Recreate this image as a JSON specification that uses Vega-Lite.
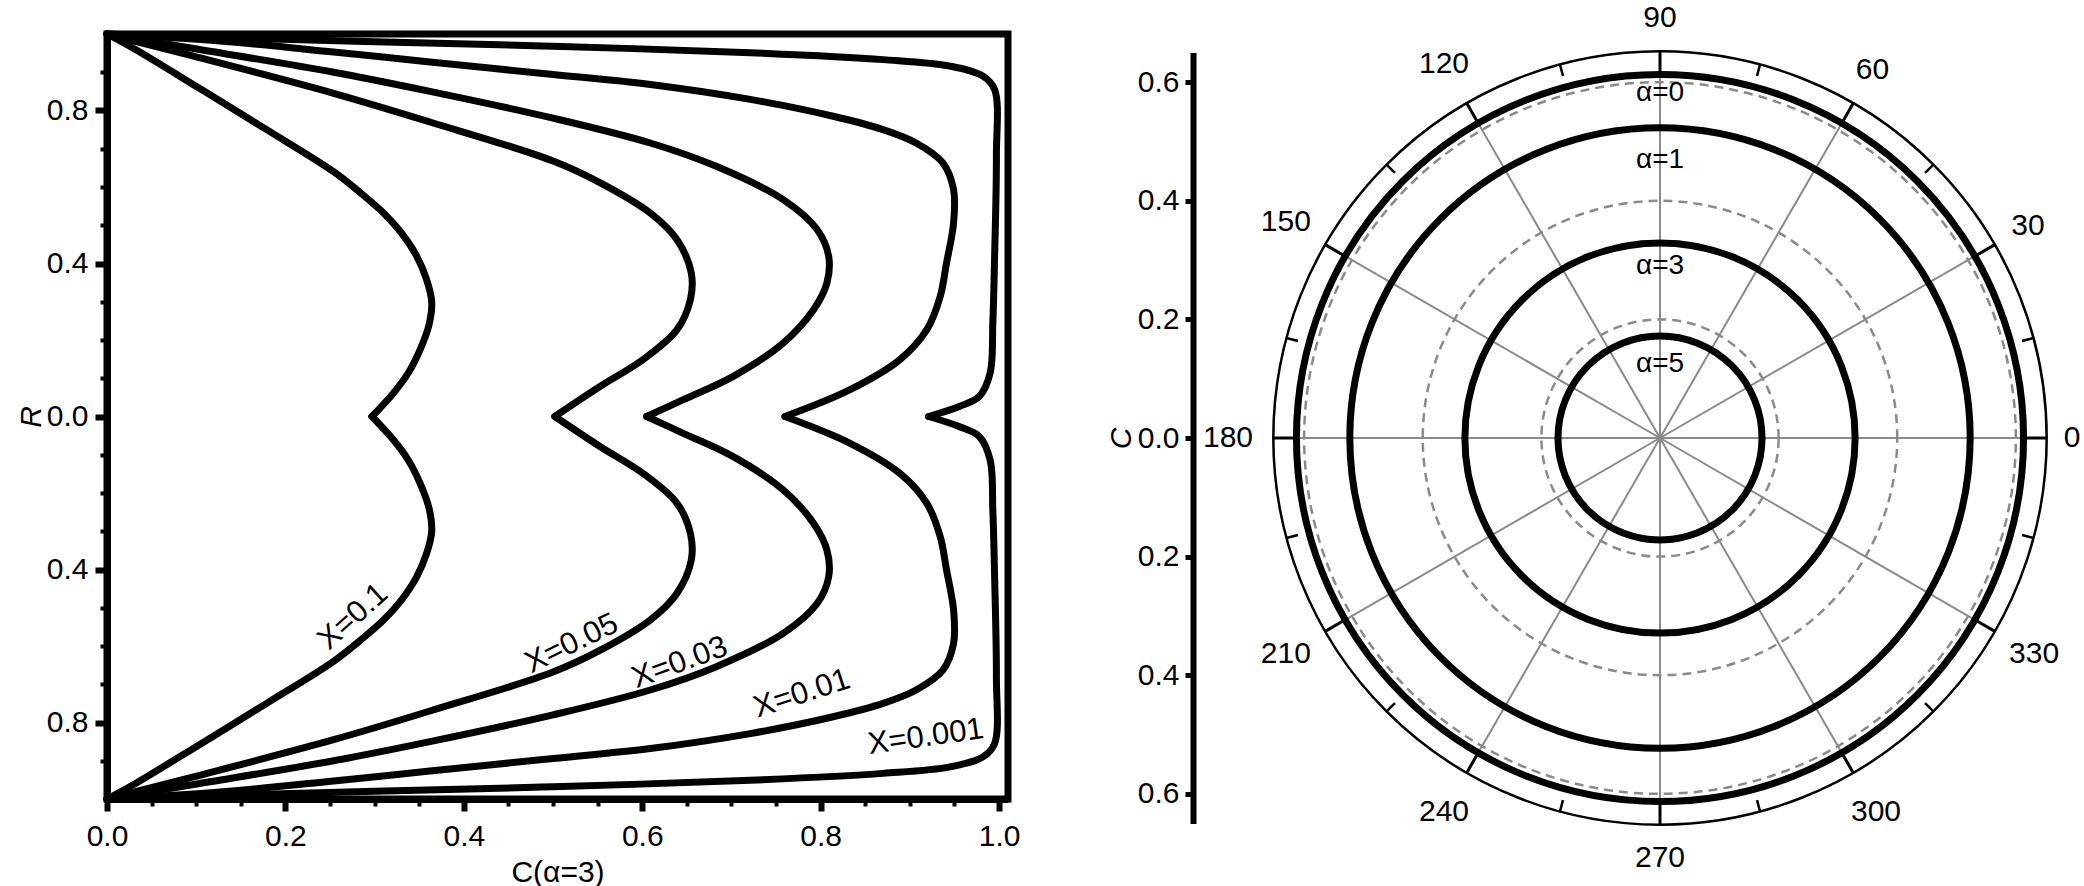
{
  "$schema": "https://vega.github.io/schema/vega-lite/v6.json",
  "padding": {"left": 12, "top": 3, "right": 0, "bottom": 0},
  "bounds": "flush",
  "spacing": 228,
  "config": {
    "font": "Liberation Sans",
    "axis": {"labelFont": "Liberation Sans", "titleFont": "Liberation Sans", "labelColor": "black", "titleColor": "black", "grid": false, "labelFlush": false, "labelOverlap": false},
    "text": {"font": "Liberation Sans", "color": "black"}
  },
  "datasets": {
    "curves": [
      {"X":"0.1","h":"t","o":0,"C":0,"R":1},{"X":"0.1","h":"t","o":1,"C":0.03,"R":0.962},{"X":"0.1","h":"t","o":2,"C":0.105,"R":0.856},{"X":"0.1","h":"t","o":3,"C":0.179,"R":0.75},{"X":"0.1","h":"t","o":4,"C":0.254,"R":0.64},{"X":"0.1","h":"t","o":5,"C":0.284,"R":0.585},{"X":"0.1","h":"t","o":6,"C":0.31,"R":0.532},{"X":"0.1","h":"t","o":7,"C":0.33,"R":0.48},{"X":"0.1","h":"t","o":8,"C":0.347,"R":0.42},{"X":"0.1","h":"t","o":9,"C":0.358,"R":0.36},{"X":"0.1","h":"t","o":10,"C":0.364,"R":0.3},{"X":"0.1","h":"t","o":11,"C":0.361,"R":0.24},{"X":"0.1","h":"t","o":12,"C":0.351,"R":0.175},{"X":"0.1","h":"t","o":13,"C":0.338,"R":0.115},{"X":"0.1","h":"t","o":14,"C":0.321,"R":0.061},{"X":"0.1","h":"t","o":15,"C":0.297,"R":0},
      {"X":"0.1","h":"b","o":0,"C":0,"R":-1},{"X":"0.1","h":"b","o":1,"C":0.03,"R":-0.962},{"X":"0.1","h":"b","o":2,"C":0.105,"R":-0.856},{"X":"0.1","h":"b","o":3,"C":0.179,"R":-0.75},{"X":"0.1","h":"b","o":4,"C":0.254,"R":-0.64},{"X":"0.1","h":"b","o":5,"C":0.284,"R":-0.585},{"X":"0.1","h":"b","o":6,"C":0.31,"R":-0.532},{"X":"0.1","h":"b","o":7,"C":0.33,"R":-0.48},{"X":"0.1","h":"b","o":8,"C":0.347,"R":-0.42},{"X":"0.1","h":"b","o":9,"C":0.358,"R":-0.36},{"X":"0.1","h":"b","o":10,"C":0.364,"R":-0.3},{"X":"0.1","h":"b","o":11,"C":0.361,"R":-0.24},{"X":"0.1","h":"b","o":12,"C":0.351,"R":-0.175},{"X":"0.1","h":"b","o":13,"C":0.338,"R":-0.115},{"X":"0.1","h":"b","o":14,"C":0.321,"R":-0.061},{"X":"0.1","h":"b","o":15,"C":0.297,"R":0},
      {"X":"0.05","h":"t","o":0,"C":0,"R":1},{"X":"0.05","h":"t","o":1,"C":0.097,"R":0.942},{"X":"0.05","h":"t","o":2,"C":0.254,"R":0.845},{"X":"0.05","h":"t","o":3,"C":0.362,"R":0.77},{"X":"0.05","h":"t","o":4,"C":0.5,"R":0.668},{"X":"0.05","h":"t","o":5,"C":0.553,"R":0.611},{"X":"0.05","h":"t","o":6,"C":0.609,"R":0.532},{"X":"0.05","h":"t","o":7,"C":0.639,"R":0.462},{"X":"0.05","h":"t","o":8,"C":0.655,"R":0.375},{"X":"0.05","h":"t","o":9,"C":0.654,"R":0.306},{"X":"0.05","h":"t","o":10,"C":0.639,"R":0.227},{"X":"0.05","h":"t","o":11,"C":0.601,"R":0.149},{"X":"0.05","h":"t","o":12,"C":0.553,"R":0.079},{"X":"0.05","h":"t","o":13,"C":0.502,"R":0},
      {"X":"0.05","h":"b","o":0,"C":0,"R":-1},{"X":"0.05","h":"b","o":1,"C":0.097,"R":-0.942},{"X":"0.05","h":"b","o":2,"C":0.254,"R":-0.845},{"X":"0.05","h":"b","o":3,"C":0.362,"R":-0.77},{"X":"0.05","h":"b","o":4,"C":0.5,"R":-0.668},{"X":"0.05","h":"b","o":5,"C":0.553,"R":-0.611},{"X":"0.05","h":"b","o":6,"C":0.609,"R":-0.532},{"X":"0.05","h":"b","o":7,"C":0.639,"R":-0.462},{"X":"0.05","h":"b","o":8,"C":0.655,"R":-0.375},{"X":"0.05","h":"b","o":9,"C":0.654,"R":-0.306},{"X":"0.05","h":"b","o":10,"C":0.639,"R":-0.227},{"X":"0.05","h":"b","o":11,"C":0.601,"R":-0.149},{"X":"0.05","h":"b","o":12,"C":0.553,"R":-0.079},{"X":"0.05","h":"b","o":13,"C":0.502,"R":0},
      {"X":"0.03","h":"t","o":0,"C":0,"R":1},{"X":"0.03","h":"t","o":1,"C":0.097,"R":0.962},{"X":"0.03","h":"t","o":2,"C":0.254,"R":0.9},{"X":"0.03","h":"t","o":3,"C":0.362,"R":0.85},{"X":"0.03","h":"t","o":4,"C":0.5,"R":0.78},{"X":"0.03","h":"t","o":5,"C":0.609,"R":0.715},{"X":"0.03","h":"t","o":6,"C":0.683,"R":0.654},{"X":"0.03","h":"t","o":7,"C":0.758,"R":0.567},{"X":"0.03","h":"t","o":8,"C":0.796,"R":0.489},{"X":"0.03","h":"t","o":9,"C":0.809,"R":0.419},{"X":"0.03","h":"t","o":10,"C":0.807,"R":0.349},{"X":"0.03","h":"t","o":11,"C":0.792,"R":0.279},{"X":"0.03","h":"t","o":12,"C":0.758,"R":0.192},{"X":"0.03","h":"t","o":13,"C":0.702,"R":0.105},{"X":"0.03","h":"t","o":14,"C":0.646,"R":0.044},{"X":"0.03","h":"t","o":15,"C":0.605,"R":0},
      {"X":"0.03","h":"b","o":0,"C":0,"R":-1},{"X":"0.03","h":"b","o":1,"C":0.097,"R":-0.962},{"X":"0.03","h":"b","o":2,"C":0.254,"R":-0.9},{"X":"0.03","h":"b","o":3,"C":0.362,"R":-0.85},{"X":"0.03","h":"b","o":4,"C":0.5,"R":-0.78},{"X":"0.03","h":"b","o":5,"C":0.609,"R":-0.715},{"X":"0.03","h":"b","o":6,"C":0.683,"R":-0.654},{"X":"0.03","h":"b","o":7,"C":0.758,"R":-0.567},{"X":"0.03","h":"b","o":8,"C":0.796,"R":-0.489},{"X":"0.03","h":"b","o":9,"C":0.809,"R":-0.419},{"X":"0.03","h":"b","o":10,"C":0.807,"R":-0.349},{"X":"0.03","h":"b","o":11,"C":0.792,"R":-0.279},{"X":"0.03","h":"b","o":12,"C":0.758,"R":-0.192},{"X":"0.03","h":"b","o":13,"C":0.702,"R":-0.105},{"X":"0.03","h":"b","o":14,"C":0.646,"R":-0.044},{"X":"0.03","h":"b","o":15,"C":0.605,"R":0},
      {"X":"0.01","h":"t","o":0,"C":0,"R":1},{"X":"0.01","h":"t","o":1,"C":0.12,"R":0.983},{"X":"0.01","h":"t","o":2,"C":0.254,"R":0.953},{"X":"0.01","h":"t","o":3,"C":0.362,"R":0.927},{"X":"0.01","h":"t","o":4,"C":0.5,"R":0.894},{"X":"0.01","h":"t","o":5,"C":0.609,"R":0.868},{"X":"0.01","h":"t","o":6,"C":0.721,"R":0.829},{"X":"0.01","h":"t","o":7,"C":0.814,"R":0.785},{"X":"0.01","h":"t","o":8,"C":0.87,"R":0.75},{"X":"0.01","h":"t","o":9,"C":0.907,"R":0.715},{"X":"0.01","h":"t","o":10,"C":0.937,"R":0.663},{"X":"0.01","h":"t","o":11,"C":0.949,"R":0.593},{"X":"0.01","h":"t","o":12,"C":0.949,"R":0.506},{"X":"0.01","h":"t","o":13,"C":0.941,"R":0.4},{"X":"0.01","h":"t","o":14,"C":0.934,"R":0.314},{"X":"0.01","h":"t","o":15,"C":0.919,"R":0.227},{"X":"0.01","h":"t","o":16,"C":0.889,"R":0.149},{"X":"0.01","h":"t","o":17,"C":0.833,"R":0.07},{"X":"0.01","h":"t","o":18,"C":0.76,"R":0},
      {"X":"0.01","h":"b","o":0,"C":0,"R":-1},{"X":"0.01","h":"b","o":1,"C":0.12,"R":-0.983},{"X":"0.01","h":"b","o":2,"C":0.254,"R":-0.953},{"X":"0.01","h":"b","o":3,"C":0.362,"R":-0.927},{"X":"0.01","h":"b","o":4,"C":0.5,"R":-0.894},{"X":"0.01","h":"b","o":5,"C":0.609,"R":-0.868},{"X":"0.01","h":"b","o":6,"C":0.721,"R":-0.829},{"X":"0.01","h":"b","o":7,"C":0.814,"R":-0.785},{"X":"0.01","h":"b","o":8,"C":0.87,"R":-0.75},{"X":"0.01","h":"b","o":9,"C":0.907,"R":-0.715},{"X":"0.01","h":"b","o":10,"C":0.937,"R":-0.663},{"X":"0.01","h":"b","o":11,"C":0.949,"R":-0.593},{"X":"0.01","h":"b","o":12,"C":0.949,"R":-0.506},{"X":"0.01","h":"b","o":13,"C":0.941,"R":-0.4},{"X":"0.01","h":"b","o":14,"C":0.934,"R":-0.314},{"X":"0.01","h":"b","o":15,"C":0.919,"R":-0.227},{"X":"0.01","h":"b","o":16,"C":0.889,"R":-0.149},{"X":"0.01","h":"b","o":17,"C":0.833,"R":-0.07},{"X":"0.01","h":"b","o":18,"C":0.76,"R":0},
      {"X":"0.001","h":"t","o":0,"C":0,"R":1},{"X":"0.001","h":"t","o":1,"C":0.14,"R":0.99},{"X":"0.001","h":"t","o":2,"C":0.3,"R":0.98},{"X":"0.001","h":"t","o":3,"C":0.5,"R":0.968},{"X":"0.001","h":"t","o":4,"C":0.721,"R":0.951},{"X":"0.001","h":"t","o":5,"C":0.87,"R":0.933},{"X":"0.001","h":"t","o":6,"C":0.945,"R":0.916},{"X":"0.001","h":"t","o":7,"C":0.982,"R":0.89},{"X":"0.001","h":"t","o":8,"C":0.995,"R":0.855},{"X":"0.001","h":"t","o":9,"C":0.997,"R":0.68},{"X":"0.001","h":"t","o":10,"C":0.995,"R":0.419},{"X":"0.001","h":"t","o":11,"C":0.993,"R":0.245},{"X":"0.001","h":"t","o":12,"C":0.99,"R":0.114},{"X":"0.001","h":"t","o":13,"C":0.978,"R":0.053},{"X":"0.001","h":"t","o":14,"C":0.956,"R":0.027},{"X":"0.001","h":"t","o":15,"C":0.921,"R":0},
      {"X":"0.001","h":"b","o":0,"C":0,"R":-1},{"X":"0.001","h":"b","o":1,"C":0.14,"R":-0.99},{"X":"0.001","h":"b","o":2,"C":0.3,"R":-0.98},{"X":"0.001","h":"b","o":3,"C":0.5,"R":-0.968},{"X":"0.001","h":"b","o":4,"C":0.721,"R":-0.951},{"X":"0.001","h":"b","o":5,"C":0.87,"R":-0.933},{"X":"0.001","h":"b","o":6,"C":0.945,"R":-0.916},{"X":"0.001","h":"b","o":7,"C":0.982,"R":-0.89},{"X":"0.001","h":"b","o":8,"C":0.995,"R":-0.855},{"X":"0.001","h":"b","o":9,"C":0.997,"R":-0.68},{"X":"0.001","h":"b","o":10,"C":0.995,"R":-0.419},{"X":"0.001","h":"b","o":11,"C":0.993,"R":-0.245},{"X":"0.001","h":"b","o":12,"C":0.99,"R":-0.114},{"X":"0.001","h":"b","o":13,"C":0.978,"R":-0.053},{"X":"0.001","h":"b","o":14,"C":0.956,"R":-0.027},{"X":"0.001","h":"b","o":15,"C":0.921,"R":0}
    ],
    "xlabels": [
      {"label":"X=0.1","C":0.276,"R":-0.524},
      {"label":"X=0.05","C":0.521,"R":-0.594},
      {"label":"X=0.03","C":0.642,"R":-0.644},
      {"label":"X=0.01","C":0.779,"R":-0.725},
      {"label":"X=0.001","C":0.918,"R":-0.838}
    ],
    "grid": [{"r":0.2},{"r":0.4},{"r":0.6}],
    "alphas": [{"alpha":"α=0","c":0.613,"lr":0.582},{"alpha":"α=1","c":0.523,"lr":0.469},{"alpha":"α=3","c":0.329,"lr":0.29},{"alpha":"α=5","c":0.172,"lr":0.124}],
    "outer": [{"r":0.652}],
    "angles": [{"a":0},{"a":30},{"a":60},{"a":90},{"a":120},{"a":150},{"a":180},{"a":210},{"a":240},{"a":270},{"a":300},{"a":330}],
    "minor": [{"a":15},{"a":45},{"a":75},{"a":105},{"a":135},{"a":165},{"a":195},{"a":225},{"a":255},{"a":285},{"a":315},{"a":345}],
    "cticks": [{"v":-0.6},{"v":-0.4},{"v":-0.2},{"v":0},{"v":0.2},{"v":0.4},{"v":0.6}]
  },
  "hconcat": [
    {
      "width": 901,
      "height": 765,
      "view": {"stroke": "black", "strokeWidth": 7},
      "layer": [
        {
          "data": {"name": "curves"},
          "mark": {"type": "line", "color": "black", "strokeWidth": 7, "interpolate": "catmull-rom", "strokeCap": "round", "strokeJoin": "round"},
          "encoding": {
            "x": {"field": "C", "type": "quantitative", "scale": {"domain": [0, 1.01], "nice": false, "zero": false},
              "axis": {"values": [0,0.05,0.1,0.15,0.2,0.25,0.3,0.35,0.4,0.45,0.5,0.55,0.6,0.65,0.7,0.75,0.8,0.85,0.9,0.95,1.0],
                "labelExpr": "round(datum.value*20) % 4 == 0 ? format(datum.value, '.1f') : ''",
                "tickSize": {"condition": {"test": "round(datum.value*20) % 4 == 0", "value": 12}, "value": 7},
                "tickWidth": {"condition": {"test": "round(datum.value*20) % 4 == 0", "value": 6}, "value": 4},
                "tickColor": "black", "domainColor": "black", "domainWidth": 7,
                "labelFontSize": 30, "labelPadding": 10,
                "title": "C(α=3)", "titleFontSize": 30, "titleFontWeight": "normal", "titlePadding": 6}},
            "y": {"field": "R", "type": "quantitative", "scale": {"domain": [-1, 1], "nice": false, "zero": false},
              "axis": {"values": [-0.9,-0.8,-0.7,-0.6,-0.5,-0.4,-0.3,-0.2,-0.1,0,0.1,0.2,0.3,0.4,0.5,0.6,0.7,0.8,0.9],
                "labelExpr": "round(datum.value*10) % 4 == 0 ? format(abs(datum.value), '.1f') : ''",
                "tickSize": {"condition": {"test": "round(datum.value*10) % 4 == 0", "value": 12}, "value": 7},
                "tickWidth": {"condition": {"test": "round(datum.value*10) % 4 == 0", "value": 6}, "value": 4},
                "tickColor": "black", "domainColor": "black", "domainWidth": 7,
                "labelFontSize": 30, "labelPadding": 7,
                "title": "R", "titleFontSize": 30, "titleFontWeight": "normal", "titleFontStyle": "italic", "titlePadding": 0}},
            "detail": [{"field": "X"}, {"field": "h"}],
            "order": {"field": "o", "type": "quantitative"}
          }
        },
        {
          "data": {"name": "xlabels"},
          "transform": [{"filter": "datum.label == 'X=0.1'"}],
          "mark": {"type": "text", "fontSize": 31, "angle": 318, "align": "center", "baseline": "middle"},
          "encoding": {"x": {"field": "C", "type": "quantitative"}, "y": {"field": "R", "type": "quantitative"}, "text": {"field": "label"}}
        },
        {
          "data": {"name": "xlabels"},
          "transform": [{"filter": "datum.label == 'X=0.05'"}],
          "mark": {"type": "text", "fontSize": 31, "angle": 334, "align": "center", "baseline": "middle"},
          "encoding": {"x": {"field": "C", "type": "quantitative"}, "y": {"field": "R", "type": "quantitative"}, "text": {"field": "label"}}
        },
        {
          "data": {"name": "xlabels"},
          "transform": [{"filter": "datum.label == 'X=0.03'"}],
          "mark": {"type": "text", "fontSize": 31, "angle": 340, "align": "center", "baseline": "middle"},
          "encoding": {"x": {"field": "C", "type": "quantitative"}, "y": {"field": "R", "type": "quantitative"}, "text": {"field": "label"}}
        },
        {
          "data": {"name": "xlabels"},
          "transform": [{"filter": "datum.label == 'X=0.01'"}],
          "mark": {"type": "text", "fontSize": 31, "angle": 342, "align": "center", "baseline": "middle"},
          "encoding": {"x": {"field": "C", "type": "quantitative"}, "y": {"field": "R", "type": "quantitative"}, "text": {"field": "label"}}
        },
        {
          "data": {"name": "xlabels"},
          "transform": [{"filter": "datum.label == 'X=0.001'"}],
          "mark": {"type": "text", "fontSize": 31, "angle": 352, "align": "center", "baseline": "middle"},
          "encoding": {"x": {"field": "C", "type": "quantitative"}, "y": {"field": "R", "type": "quantitative"}, "text": {"field": "label"}}
        }
      ]
    },
    {
      "width": 848,
      "height": 808,
      "view": {"stroke": null},
      "resolve": {"scale": {"theta": "shared", "radius": "shared"}},
      "layer": [
        {
          "data": {"name": "cticks"},
          "mark": {"type": "point", "opacity": 0},
          "encoding": {
            "y": {"field": "v", "type": "quantitative", "scale": {"domain": [-0.65, 0.65], "range": [789.5, 18.5], "nice": false, "zero": false},
              "axis": {"orient": "left", "offset": 43, "values": [-0.6,-0.4,-0.2,0,0.2,0.4,0.6],
                "labelExpr": "format(abs(datum.value), '.1f')",
                "tickSize": 8, "tickWidth": 5, "tickColor": "black", "domainColor": "black", "domainWidth": 6,
                "labelFontSize": 30, "labelPadding": 6,
                "title": "C", "titleFontSize": 30, "titleFontWeight": "normal", "titleFontStyle": "italic", "titlePadding": 1}}
          }
        },
        {
          "data": {"name": "grid"},
          "mark": {"type": "arc", "filled": false, "stroke": "#8a8a8a", "strokeWidth": 2.5, "strokeDash": [9, 6]},
          "encoding": {
            "theta": {"datum": 0, "type": "quantitative", "stack": null, "scale": {"type": "linear", "domain": [0, 360], "range": [1.5707963267948966, -4.71238898038469], "nice": false, "zero": false}},
            "theta2": {"datum": 361},
            "radius": {"field": "r", "type": "quantitative", "stack": null, "scale": {"type": "linear", "domain": [0, 0.65], "range": [0, 385.5], "nice": false, "zero": true}}
          }
        },
        {
          "data": {"name": "angles"},
          "mark": {"type": "arc", "filled": false, "stroke": "#8a8a8a", "strokeWidth": 2},
          "encoding": {
            "theta": {"field": "a", "type": "quantitative", "stack": null},
            "theta2": {"field": "a"},
            "radius": {"datum": 0.613, "type": "quantitative", "stack": null},
            "radius2": {"datum": 0}
          }
        },
        {
          "data": {"name": "alphas"},
          "mark": {"type": "arc", "filled": false, "stroke": "black", "strokeWidth": 7},
          "encoding": {
            "theta": {"datum": 0, "type": "quantitative", "stack": null},
            "theta2": {"datum": 361},
            "radius": {"field": "c", "type": "quantitative", "stack": null}
          }
        },
        {
          "data": {"name": "outer"},
          "mark": {"type": "arc", "filled": false, "stroke": "black", "strokeWidth": 2.5},
          "encoding": {
            "theta": {"datum": 0, "type": "quantitative", "stack": null},
            "theta2": {"datum": 361},
            "radius": {"field": "r", "type": "quantitative", "stack": null}
          }
        },
        {
          "data": {"name": "angles"},
          "mark": {"type": "arc", "filled": false, "stroke": "black", "strokeWidth": 3},
          "encoding": {
            "theta": {"field": "a", "type": "quantitative", "stack": null},
            "theta2": {"field": "a"},
            "radius": {"datum": 0.652, "type": "quantitative", "stack": null},
            "radius2": {"datum": 0.613}
          }
        },
        {
          "data": {"name": "minor"},
          "mark": {"type": "arc", "filled": false, "stroke": "black", "strokeWidth": 2.5},
          "encoding": {
            "theta": {"field": "a", "type": "quantitative", "stack": null},
            "theta2": {"field": "a"},
            "radius": {"datum": 0.652, "type": "quantitative", "stack": null},
            "radius2": {"datum": 0.632}
          }
        },
        {
          "data": {"name": "alphas"},
          "mark": {"type": "text", "fontSize": 28, "align": "center", "baseline": "middle"},
          "encoding": {
            "theta": {"datum": 90, "type": "quantitative", "stack": null},
            "radius": {"field": "lr", "type": "quantitative", "stack": null},
            "text": {"field": "alpha"}
          }
        },
        {
          "data": {"name": "angles"},
          "transform": [{"filter": "datum.a == 0"}],
          "mark": {"type": "text", "fontSize": 30, "align": "center", "baseline": "middle", "radius": 412},
          "encoding": {"theta": {"field": "a", "type": "quantitative", "stack": null}, "text": {"field": "a"}}
        },
        {
          "data": {"name": "angles"},
          "transform": [{"filter": "datum.a == 30 || datum.a == 60"}],
          "mark": {"type": "text", "fontSize": 30, "align": "center", "baseline": "middle", "radius": 425},
          "encoding": {"theta": {"field": "a", "type": "quantitative", "stack": null}, "text": {"field": "a"}}
        },
        {
          "data": {"name": "angles"},
          "transform": [{"filter": "datum.a == 90 || datum.a == 270"}],
          "mark": {"type": "text", "fontSize": 30, "align": "center", "baseline": "middle", "radius": 420},
          "encoding": {"theta": {"field": "a", "type": "quantitative", "stack": null}, "text": {"field": "a"}}
        },
        {
          "data": {"name": "angles"},
          "transform": [{"filter": "datum.a >= 120 && datum.a != 270"}],
          "mark": {"type": "text", "fontSize": 30, "align": "center", "baseline": "middle", "radius": 432},
          "encoding": {"theta": {"field": "a", "type": "quantitative", "stack": null}, "text": {"field": "a"}}
        }
      ]
    }
  ]
}
